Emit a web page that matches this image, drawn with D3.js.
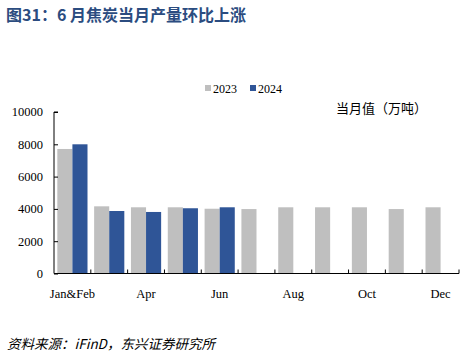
<!DOCTYPE html>
<html><head><meta charset="utf-8">
<script src="https://cdn.jsdelivr.net/npm/d3@7"></script>
<style>body{margin:0;background:#fff;} svg{display:block;}</style>
</head><body>
<script>
const categories = ["Jan&Feb","Mar","Apr","May","Jun","Jul","Aug","Sep","Oct","Nov","Dec"];
const shownLabels = ["Jan&Feb","Apr","Jun","Aug","Oct","Dec"];
const values2023 = [7710,4160,4100,4100,4010,3990,4100,4100,4100,3990,4100];
const values2024 = [8000,3870,3810,4040,4100,null,null,null,null,null,null];
const seriesNames = ["2023","2024"];
const yTicks = [0,2000,4000,6000,8000,10000];
const colors = ["#bfbfbf","#2f5597"];

const W=465,H=357;
const svg=d3.select("body").append("svg").attr("width",W).attr("height",H);
const m={left:54,right:459,top:112,bottom:273.5};

svg.append("text").attr("x",6).attr("y",21)
  .attr("font-family","'Noto Sans CJK SC',sans-serif").attr("font-weight","bold")
  .attr("font-size",16).attr("fill","#2b4c80")
  .text("图31：6 月焦炭当月产量环比上涨");

const x=d3.scaleBand().domain(categories).range([m.left,m.right]).paddingInner(0).paddingOuter(0);
const xs=d3.scaleBand().domain(seriesNames).range([0,x.bandwidth()]).paddingInner(0).paddingOuter(0.22);
const y=d3.scaleLinear().domain([0,10000]).range([m.bottom,m.top]);

const data=categories.map((c,i)=>({c,v:[values2023[i],values2024[i]]}));
const g=svg.append("g");
data.forEach(d=>{
  d.v.forEach((v,j)=>{
    if(v==null) return;
    g.append("rect").attr("x",x(d.c)+xs(seriesNames[j])).attr("width",xs.bandwidth())
     .attr("y",y(v)).attr("height",y(0)-y(v)).attr("fill",colors[j]);
  });
});

// y axis
const ya=svg.append("g").attr("transform",`translate(${m.left},0)`)
  .call(d3.axisRight(y).tickValues(yTicks).tickSize(4).tickFormat(""));
ya.select(".domain").attr("stroke","#000").attr("d",`M4,${m.top}H0V${m.bottom}`);
ya.selectAll("line").attr("stroke","#000");
svg.append("g").selectAll("text").data(yTicks).join("text")
  .attr("x",43).attr("y",d=>y(d)).attr("dy","0.35em").attr("text-anchor","end")
  .attr("font-family","'Liberation Serif',serif").attr("font-size",12.5).attr("fill","#000")
  .text(d=>d);

// x axis
const xa=svg.append("g").attr("transform",`translate(0,${m.bottom})`);
xa.append("line").attr("x1",m.left).attr("x2",m.right).attr("stroke","#000");
const tickPos=categories.map(c=>x(c)+x.bandwidth());
xa.selectAll("line.t").data(tickPos).join("line").attr("class","t")
  .attr("x1",d=>d).attr("x2",d=>d).attr("y1",0).attr("y2",-4).attr("stroke","#000");
xa.selectAll("text").data(shownLabels).join("text")
  .attr("x",d=>x(d)+x.bandwidth()/2).attr("y",24).attr("text-anchor","middle")
  .attr("font-family","'Liberation Serif',serif").attr("font-size",12.5).attr("fill","#000")
  .text(d=>d);

// legend
const legX=[205,250];
seriesNames.forEach((s,i)=>{
  svg.append("rect").attr("x",legX[i]).attr("y",85).attr("width",6).attr("height",6).attr("fill",colors[i]);
  svg.append("text").attr("x",legX[i]+8).attr("y",92.5)
    .attr("font-family","'Liberation Serif',serif").attr("font-size",12).attr("fill","#000").text(s);
});

svg.append("text").attr("x",336).attr("y",113)
  .attr("font-family","'Noto Sans CJK SC',sans-serif").attr("font-size",13).attr("fill","#000")
  .text("当月值（万吨）");

svg.append("text").attr("x",7).attr("y",349)
  .attr("font-family","'Noto Sans CJK SC',sans-serif").attr("font-style","italic").attr("font-size",13.5).attr("fill","#000")
  .text("资料来源：iFinD，东兴证券研究所");
</script>
</body></html>
